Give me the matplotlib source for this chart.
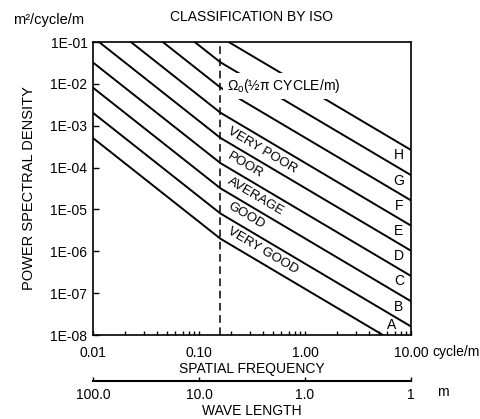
import numpy as np
import matplotlib.pyplot as plt
from matplotlib.ticker import NullLocator

plt.rcParams['font.family'] = ['Liberation Sans', 'DejaVu Sans']
plt.rcParams['mathtext.fontset'] = 'custom'
plt.rcParams['mathtext.rm'] = 'Liberation Sans'
plt.rcParams['mathtext.it'] = 'Liberation Sans:italic'
plt.rcParams['font.size'] = 10

omega0 = 1 / (2 * np.pi)

# class boundary lines, psd read at 0.01, omega0 and 10 cycle/m
freq_points = [0.01, omega0, 10.0]
psd_left = [5.07e-4, 2.03e-3, 8.1e-3, 3.24e-2, 0.130, 0.519, 2.08, 8.3, 33.2]
psd_omega0 = [2e-6, 8e-6, 3.2e-5, 1.28e-4, 5.12e-4, 2.048e-3, 8.192e-3, 3.2768e-2, 1.31072e-1]
psd_right = [4.0e-9, 1.6e-8, 6.4e-8, 2.57e-7, 1.03e-6, 4.1e-6, 1.64e-5, 6.6e-5, 2.63e-4]

class_letters = ["A", "B", "C", "D", "E", "F", "G", "H"]
class_names = ["VERY GOOD", "GOOD", "AVERAGE", "POOR", "VERY POOR"]

freq_ticks = [0.01, 0.1, 1, 10]
freq_labels = ["0.01", "0.10", "1.00", "10.00"]
psd_ticks = [1e-1, 1e-2, 1e-3, 1e-4, 1e-5, 1e-6, 1e-7, 1e-8]
psd_labels = ["1E-01", "1E-02", "1E-03", "1E-04", "1E-05", "1E-06", "1E-07", "1E-08"]
wave_ticks = [100, 10, 1, 0.1]
wave_labels = ["100.0", "10.0", "1.0", "1"]


def line_at(k, f):
    ys = [psd_left[k], psd_omega0[k], psd_right[k]]
    return 10 ** np.interp(np.log10(f), np.log10(freq_points), np.log10(ys))


def inverse(x):
    x = np.array(x, dtype=float)
    near_zero = np.isclose(x, 0)
    x[near_zero] = np.inf
    x[~near_zero] = 1 / x[~near_zero]
    return x


fig = plt.figure(figsize=(4.81, 4.19), dpi=100)
ax = fig.add_axes([93 / 481, 84 / 419, 318 / 481, 293 / 419])
ax.set_xscale('log')
ax.set_yscale('log')
ax.set_xlim(0.01, 10)
ax.set_ylim(1e-8, 1e-1)

for k in range(len(psd_omega0)):
    ax.plot(freq_points, [psd_left[k], psd_omega0[k], psd_right[k]],
            color='black', lw=1.4, solid_capstyle='butt')

ax.axvline(omega0, color='black', lw=1.1, ls=(0, (5, 3)))

for s in ax.spines.values():
    s.set_linewidth(1.2)

ax.set_xticks(freq_ticks, labels=freq_labels)
ax.set_yticks(psd_ticks, labels=psd_labels)
ax.yaxis.set_minor_locator(NullLocator())
ax.tick_params(axis='x', which='both', direction='in', length=3, width=1, pad=8, labelsize=10)
ax.tick_params(axis='y', which='both', direction='in', length=4, width=1, pad=4, labelsize=10)
ax.xaxis.set_minor_formatter(plt.NullFormatter())

ax.set_title("CLASSIFICATION BY ISO", fontsize=10, pad=15)
ax.set_ylabel("POWER SPECTRAL DENSITY", fontsize=10.5)
ax.yaxis.set_label_coords(-0.18, 0.5)
ax.set_xlabel("SPATIAL FREQUENCY", fontsize=10, va='top')
ax.xaxis.set_label_coords(0.5, -0.092)

fig.text(13 / 481, 1 - 24 / 419, "m²/cycle/m", fontsize=10.5, ha='left', va='baseline')
fig.text(432 / 481, 1 - 352 / 419, "cycle/m", fontsize=10, ha='left', va='center')

# wave length scale under the frequency axis
secax = ax.secondary_xaxis((335 - 381) / 293, functions=(inverse, inverse))
secax.set_xticks(wave_ticks, labels=wave_labels)
secax.xaxis.set_minor_locator(NullLocator())
secax.tick_params(axis='x', direction='in', length=3, width=1, pad=5, labelsize=10)
secax.spines['bottom'].set_linewidth(1.5)
secax.set_xlabel("WAVE LENGTH", fontsize=10, labelpad=1.5)
fig.text(437 / 481, 1 - 392 / 419, "m", fontsize=10, ha='left', va='center')

ax.text(0.183, 10 ** (-1 - (86 - 42) / 41.9), r"$\Omega_\mathrm{o}$(½π CYCLE/m)",
        fontsize=10, ha='left', va='center', zorder=5,
        bbox=dict(facecolor='white', edgecolor='none', pad=3))

# rotation of the labels following the right-hand slope
fig.canvas.draw()
p1 = ax.transData.transform((omega0, psd_omega0[0]))
p2 = ax.transData.transform((10.0, psd_right[0]))
angle = np.degrees(np.arctan2(p2[1] - p1[1], p2[0] - p1[0]))

for k, name in enumerate(class_names):
    y = np.sqrt(line_at(k, 0.19) * line_at(k + 1, 0.19))
    ax.text(0.19, y, name, fontsize=9.5, rotation=angle, rotation_mode='anchor',
            ha='left', va='center')

for k, letter in enumerate(class_letters):
    if k == 0:
        y = np.sqrt(line_at(1, 6.5) * 1e-8)
        ax.text(6.5, y, letter, fontsize=10, ha='center', va='center')
    else:
        y = np.sqrt(line_at(k, 7.7) * line_at(k + 1, 7.7))
        ax.text(7.7, y, letter, fontsize=10, ha='center', va='center')

fig.savefig("out.png", dpi=100)
